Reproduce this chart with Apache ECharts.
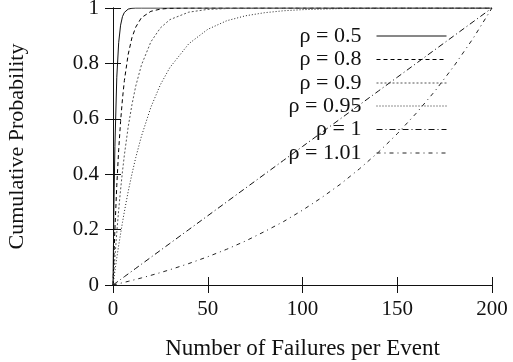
<!DOCTYPE html>
<html>
<head>
<meta charset="utf-8">
<script src="https://cdn.jsdelivr.net/npm/echarts@6/dist/echarts.min.js"></script>
<style>
  html, body { margin: 0; padding: 0; background: #fff; }
  #chart { width: 513px; height: 362px; }
</style>
</head>
<body>
<div id="chart"></div>
<script>
// x samples (failures per event) shared by every curve
const xs = [0, 0.5, 1, 2, 3, 4, 5, 6, 8, 10, 12, 15, 20, 25, 30, 40, 50, 60, 70, 80, 90,
  100, 110, 120, 130, 140, 150, 160, 170, 180, 190, 200]

const rho050 = [0, 0.293, 0.5, 0.75, 0.875, 0.938, 0.969, 0.984, 0.996, 0.999, 1, 1, 1, 1, 1, 1, 1, 1, 1, 1, 1,
  1, 1, 1, 1, 1, 1, 1, 1, 1, 1, 1]
const rho080 = [0, 0.106, 0.2, 0.36, 0.488, 0.59, 0.672, 0.738, 0.832, 0.893, 0.931, 0.965, 0.988, 0.996, 0.999, 1, 1, 1, 1, 1, 1,
  1, 1, 1, 1, 1, 1, 1, 1, 1, 1, 1]
const rho090 = [0, 0.051, 0.1, 0.19, 0.271, 0.344, 0.41, 0.469, 0.57, 0.651, 0.718, 0.794, 0.878, 0.928, 0.958, 0.985, 0.995, 0.998, 0.999, 1, 1,
  1, 1, 1, 1, 1, 1, 1, 1, 1, 1, 1]
const rho095 = [0, 0.025, 0.05, 0.098, 0.143, 0.185, 0.226, 0.265, 0.337, 0.401, 0.46, 0.537, 0.642, 0.723, 0.785, 0.871, 0.923, 0.954, 0.972, 0.983, 0.99,
  0.994, 0.996, 0.998, 0.999, 0.999, 1, 1, 1, 1, 1, 1]
const rho100 = [0, 0.0025, 0.005, 0.01, 0.015, 0.02, 0.025, 0.03, 0.04, 0.05, 0.06, 0.075, 0.1, 0.125, 0.15, 0.2, 0.25, 0.3, 0.35, 0.4, 0.45,
  0.5, 0.55, 0.6, 0.65, 0.7, 0.75, 0.8, 0.85, 0.9, 0.95, 1]
const rho101 = [0, 0.0008, 0.0016, 0.0032, 0.0048, 0.0064, 0.0081, 0.0097, 0.0131, 0.0166, 0.0201, 0.0255, 0.0349, 0.0447, 0.0551, 0.0774, 0.102, 0.129, 0.159, 0.193, 0.229,
  0.27, 0.315, 0.364, 0.419, 0.479, 0.546, 0.62, 0.701, 0.791, 0.89, 1]

const names = ['ρ = 0.5', 'ρ = 0.8', 'ρ = 0.9', 'ρ = 0.95', 'ρ = 1', 'ρ = 1.01']
const values = [rho050, rho080, rho090, rho095, rho100, rho101]
const dashes = ['solid', [4, 3], [2, 2], [1, 2], [6, 3, 1, 3], [4, 4, 1, 4]]
const colors = ['#111', '#000', '#555', '#222', '#111', '#222']

const font = 'Liberation Serif'
const chart = echarts.init(document.getElementById('chart'))

const series = names.map((name, i) => ({
  name: name,
  type: 'line',
  symbol: 'none',
  silent: true,
  animation: false,
  data: xs.map((x, k) => [x, values[i][k]]),
  itemStyle: { color: colors[i] },
  lineStyle: { color: colors[i], width: 1, type: dashes[i] }
}))

// one legend per row so the text lines up on its right edge like gnuplot's key
const legendRows = [36, 59.5, 83, 106, 129.5, 153]
const legends = names.map((name, i) => ({
  data: [name],
  right: 66,
  top: legendRows[i] - 11,
  align: 'right',
  orient: 'vertical',
  padding: 0,
  itemWidth: 70,
  itemHeight: 10,
  selectedMode: false,
  itemStyle: { opacity: 0 },
  lineStyle: { width: 1 },
  textStyle: { fontFamily: font, fontSize: 22, color: '#111', lineHeight: 22, padding: [0, 10, 0, 0] }
}))

const tickStyle = { inside: true, length: 8, lineStyle: { color: '#111' } }
const lineStyle = { show: true, lineStyle: { color: '#111', width: 1 } }

chart.setOption({
  backgroundColor: '#fff',
  animation: false,
  grid: { left: 113, right: 21, top: 8, bottom: 77, outerBoundsMode: 'none' },
  legend: legends,
  xAxis: [{
    type: 'value',
    min: 0,
    max: 200,
    interval: 50,
    name: 'Number of Failures per Event',
    nameLocation: 'middle',
    nameGap: 52,
    nameTextStyle: { fontFamily: font, fontSize: 23, color: '#111' },
    axisLine: lineStyle,
    axisTick: tickStyle,
    axisLabel: { fontFamily: font, fontSize: 21, color: '#111', margin: 14 },
    splitLine: { show: false }
  }, {
    type: 'value',
    position: 'top',
    min: 0,
    max: 200,
    interval: 50,
    axisLine: lineStyle,
    axisTick: tickStyle,
    axisLabel: { show: false },
    splitLine: { show: false }
  }],
  yAxis: [{
    type: 'value',
    min: 0,
    max: 1,
    interval: 0.2,
    name: 'Cumulative Probability',
    nameLocation: 'middle',
    nameGap: 85,
    nameTextStyle: { fontFamily: font, fontSize: 22, color: '#111' },
    axisLine: lineStyle,
    axisTick: tickStyle,
    axisLabel: { fontFamily: font, fontSize: 21, color: '#111', margin: 14 },
    splitLine: { show: false }
  }, {
    type: 'value',
    position: 'right',
    min: 0,
    max: 1,
    interval: 0.2,
    axisLine: lineStyle,
    axisTick: tickStyle,
    axisLabel: { show: false },
    splitLine: { show: false }
  }],
  series: series
})
</script>
</body>
</html>
